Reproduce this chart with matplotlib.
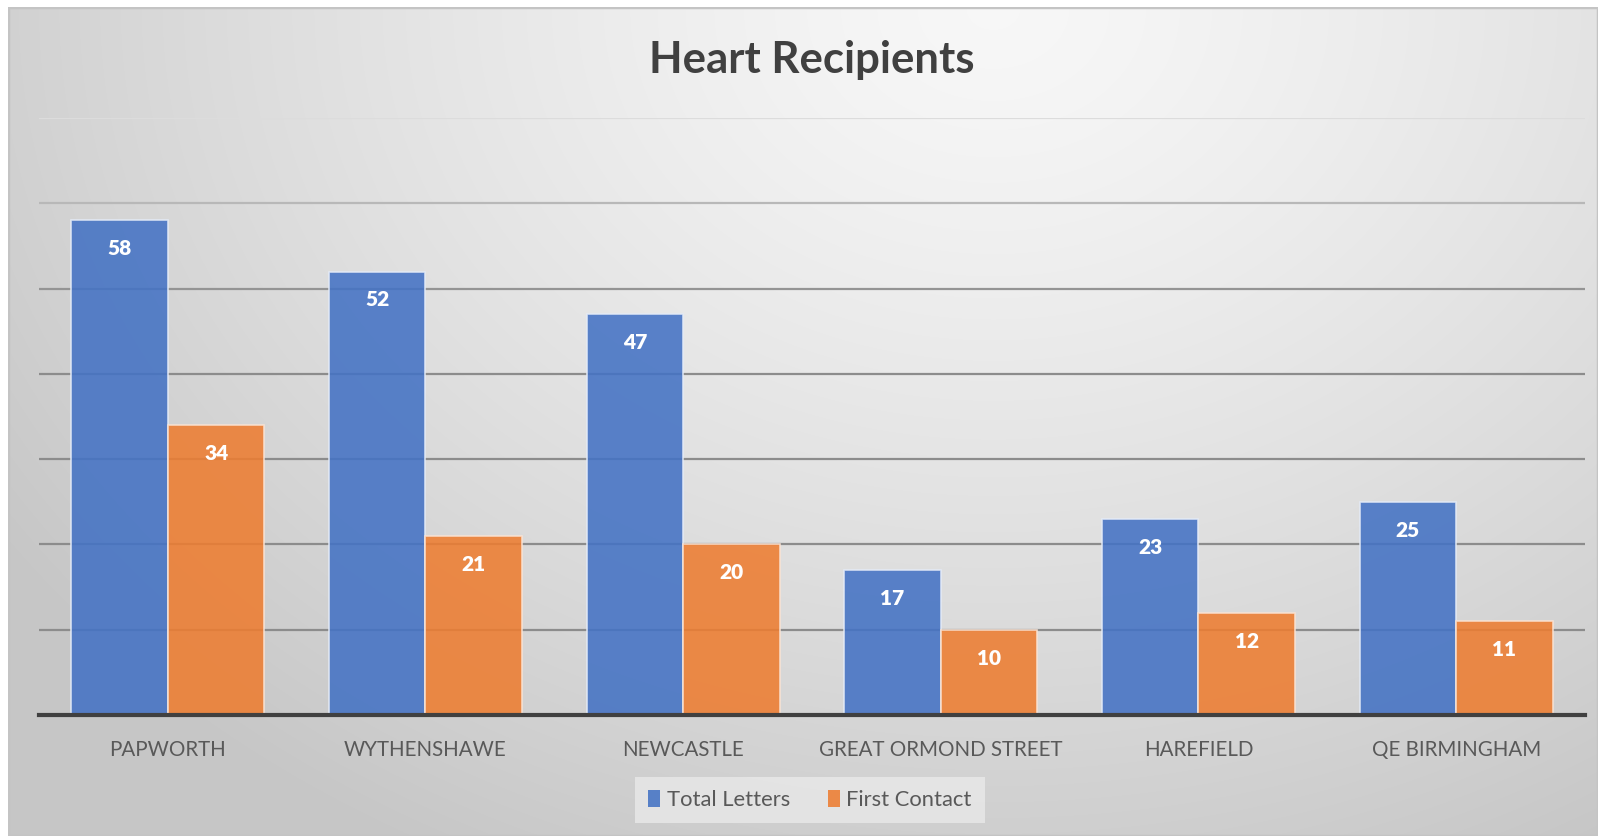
import numpy as np
import matplotlib
matplotlib.use("Agg")
import matplotlib.pyplot as plt
from matplotlib.patches import Patch, Rectangle

plt.rcParams['font.family'] = ['Lato', 'DejaVu Sans']

# data
hospitals = ["PAPWORTH", "WYTHENSHAWE", "NEWCASTLE", "GREAT ORMOND STREET",
             "HAREFIELD", "QE BIRMINGHAM"]
total_letters = [58, 52, 47, 17, 23, 25]
first_contact = [34, 21, 20, 10, 12, 11]
series_names = ["Total Letters", "First Contact"]
grid_ticks = [10, 20, 30, 40, 50, 60, 70]

blue = "#4472C4"
orange = "#ED7D31"

W, H = 1598, 836
fig = plt.figure(figsize=(W / 100, H / 100), dpi=100)
fig.patch.set_facecolor("white")

# gradient background of the chart area (light top-middle, grey edges)
bg = fig.add_axes([8 / W, 0, 1 - 8 / W, 1 - 7 / H])
bg.set_axis_off()
yy, xx = np.mgrid[0:1:300j, 0:1:600j]
d = np.sqrt(((xx - 0.62) / 0.75) ** 2 + ((yy - 0.0) / 1.15) ** 2)
shade = 0.97 - 0.19 * np.clip(d, 0, 1) ** 1.3
bg.imshow(np.dstack([shade] * 3), aspect="auto", extent=[0, 1, 1, 0],
          interpolation="bilinear")
bg.set_xlim(0, 1)
bg.set_ylim(1, 0)
bg.add_patch(Rectangle((0, 0), 1, 1, transform=bg.transAxes, fill=False,
                       edgecolor="#c4c4c4", linewidth=2.5))

ax = fig.add_axes([39 / W, 1 - 715 / H, (1585 - 39) / W, (715 - 118) / H])
ax.patch.set_alpha(0)

x = np.arange(len(hospitals))
bw = 0.375
b1 = ax.bar(x - bw / 2, total_letters, bw, color=blue, alpha=0.88,
            edgecolor="#e4ebf7", linewidth=1.2, zorder=3)
b2 = ax.bar(x + bw / 2, first_contact, bw, color=orange, alpha=0.88,
            edgecolor="#fbe3d3", linewidth=1.2, zorder=3)

for bars in (b1, b2):
    for r in bars:
        ax.annotate(str(int(r.get_height())),
                    (r.get_x() + r.get_width() / 2, r.get_height()),
                    xytext=(0, -20.5), textcoords="offset points",
                    ha="center", va="center", color="white",
                    fontsize=15, fontweight="heavy", zorder=4)

ax.set_xlim(-0.5, len(hospitals) - 0.5)
ax.set_ylim(0, 70)
ax.set_yticks(grid_ticks)
ax.set_yticklabels([])
ax.tick_params(axis="y", length=0)
ax.tick_params(axis="x", length=0, pad=18, labelsize=14.8, labelcolor="#595959")
ax.set_xticks(x)
ax.set_xticklabels(hospitals)

ax.yaxis.grid(True, linewidth=1.6, zorder=1)
grid_cols = ["#8c8c8c", "#8c8c8c", "#8c8c8c", "#8c8c8c", "#949494",
             "#b8b8b8", "#dcdcdc"]
for gl, c in zip(ax.get_ygridlines(), grid_cols):
    gl.set_color(c)

for s in ["top", "right", "left"]:
    ax.spines[s].set_visible(False)
ax.spines["bottom"].set_color("#404040")
ax.spines["bottom"].set_linewidth(3)
ax.spines["bottom"].set_zorder(5)

fig.text(812 / W, 1 - 60 / H, "Heart Recipients", ha="center", va="center",
         fontsize=31.5, fontweight="bold", color="#404040")

handles = [Patch(facecolor=blue, alpha=0.88), Patch(facecolor=orange, alpha=0.88)]
leg = fig.legend(handles, series_names, loc="center",
                 bbox_to_anchor=(810 / W, 1 - 800 / H), ncol=2,
                 fontsize=15.8, frameon=True, fancybox=False,
                 handlelength=0.55, handleheight=0.8, handletextpad=0.3,
                 columnspacing=1.7, borderpad=0.6)
leg.get_frame().set_facecolor("#e9e9e9")
leg.get_frame().set_edgecolor("none")
for t in leg.get_texts():
    t.set_color("#595959")

fig.savefig("out.png", dpi=100)
